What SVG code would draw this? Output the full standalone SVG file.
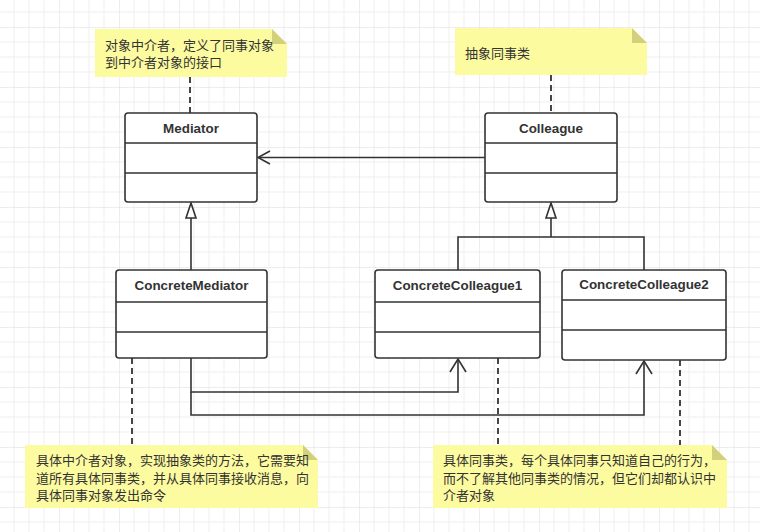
<svg xmlns="http://www.w3.org/2000/svg" width="760" height="532" viewBox="0 0 760 532">
<style>
.box{fill:#fff;stroke:#333;stroke-width:1.6}
.div{stroke:#333;stroke-width:1.6;fill:none}
.title{font-family:"Liberation Sans",Arial,sans-serif;font-weight:bold;font-size:13.4px;fill:#333;text-anchor:middle}
.note{fill:#fdfba0;stroke:none}
.fold{fill:#d3d07c}
.nt{font-family:"Noto Sans CJK SC","Liberation Sans",sans-serif;font-size:13px;fill:#333}
.dash{stroke:#333;stroke-width:1.8;stroke-dasharray:6 4;fill:none}
.line{stroke:#333;stroke-width:1.6;fill:none}
</style>
<defs>
<pattern id="grid" x="59" y="27" width="60" height="60" patternUnits="userSpaceOnUse">
<path d="M15 0V60M30 0V60M45 0V60M0 15H60M0 30H60M0 45H60" stroke="#efefef" stroke-width="1"/>
<path d="M0 0V60M0 0H60" stroke="#dcdcdc" stroke-width="1"/>
</pattern>
</defs>
<rect width="760" height="532" fill="#fff"/>
<rect width="760" height="532" fill="url(#grid)"/>

<g id="connectors">
<path class="dash" d="M190 77V113"/>
<path class="dash" d="M551 75V113"/>
<path class="dash" d="M132 358V445"/>
<path class="dash" d="M498 358V445"/>
<path class="dash" d="M680 360V445"/>
<path class="line" d="M485 157.5H259"/>
<path class="line" d="M270 151L258 157.5L270 164"/>
<path class="line" d="M191 270V218"/>
<path class="line" d="M191 203L186 218H196Z" fill="#fff"/>
<path class="line" d="M458 270V237H644V270M551 237V218"/>
<path class="line" d="M551 203L546 218H556Z" fill="#fff"/>
<path class="line" d="M191 358V392H458V359"/>
<path class="line" d="M450 372L458 359L466 372"/>
<path class="line" d="M191 392V415H644V361"/>
<path class="line" d="M636 374L644 361L652 374"/>
</g>

<g id="note-mediator">
<path class="note" d="M95 29H272L287 44V77H95Z"/>
<path class="fold" d="M272 29L287 44H272Z"/>
<text class="nt" x="105" y="49.5">对象中介者，定义了同事对象</text>
<text class="nt" x="105" y="67">到中介者对象的接口</text>
</g>

<g id="note-colleague">
<path class="note" d="M455 28H632L647 43V75H455Z"/>
<path class="fold" d="M632 28L647 43H632Z"/>
<text class="nt" x="465" y="57.5">抽象同事类</text>
</g>

<g id="Mediator">
<rect class="box" x="125" y="113" width="132" height="89" rx="3"/>
<path class="div" d="M125 143H257M125 173H257"/>
<text class="title" x="191" y="133">Mediator</text>
</g>

<g id="Colleague">
<rect class="box" x="485" y="113" width="132" height="89" rx="3"/>
<path class="div" d="M485 143H617M485 173H617"/>
<text class="title" x="551" y="133">Colleague</text>
</g>

<g id="ConcreteMediator">
<rect class="box" x="116" y="270" width="151" height="88" rx="3"/>
<path class="div" d="M116 302H267M116 332H267"/>
<text class="title" x="191.5" y="290">ConcreteMediator</text>
</g>

<g id="ConcreteColleague1">
<rect class="box" x="375" y="270" width="165" height="88" rx="3"/>
<path class="div" d="M375 302H540M375 332H540"/>
<text class="title" x="457.5" y="290">ConcreteColleague1</text>
</g>

<g id="ConcreteColleague2">
<rect class="box" x="562" y="270" width="164" height="90" rx="3"/>
<path class="div" d="M562 300H726M562 330H726"/>
<text class="title" x="644" y="289">ConcreteColleague2</text>
</g>

<g id="note-concrete-mediator">
<path class="note" d="M25 445H303L318 460V508H25Z"/>
<path class="fold" d="M303 445L318 460H303Z"/>
<text class="nt" x="36" y="465">具体中介者对象，实现抽象类的方法，它需要知</text>
<text class="nt" x="36" y="482.5">道所有具体同事类，并从具体同事接收消息，向</text>
<text class="nt" x="36" y="500">具体同事对象发出命令</text>
</g>

<g id="note-concrete-colleague">
<path class="note" d="M433 445H712L727 460V508H433Z"/>
<path class="fold" d="M712 445L727 460H712Z"/>
<text class="nt" x="443" y="465">具体同事类，每个具体同事只知道自己的行为，</text>
<text class="nt" x="443" y="482.5">而不了解其他同事类的情况，但它们却都认识中</text>
<text class="nt" x="443" y="500">介者对象</text>
</g>
</svg>
